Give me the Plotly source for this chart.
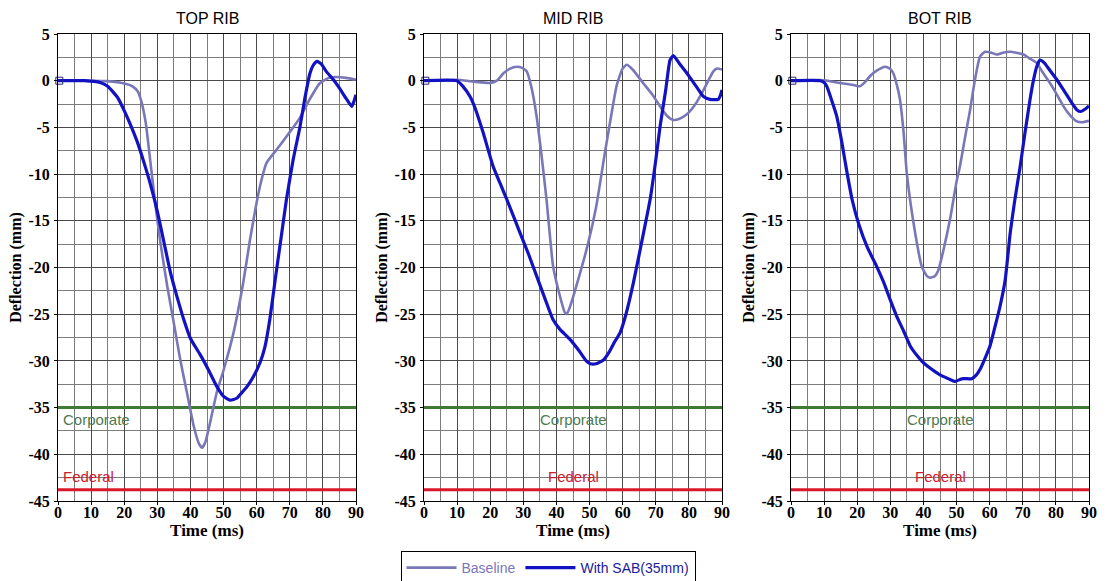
import plotly.graph_objects as go

# ---- data: rib deflection (mm) versus time (ms) ----
panel_titles = ["TOP RIB", "MID RIB", "BOT RIB"]
x_ticks = [0, 10, 20, 30, 40, 50, 60, 70, 80, 90]
y_ticks = [5, 0, -5, -10, -15, -20, -25, -30, -35, -40, -45]
y_tick_text = ["5", "0", "-5", "-10", "-15", "-20", "-25", "-30", "-35", "-40", "-45"]

corporate_limit = -35.0
federal_limit = -43.8

top_base_t = [0, 10, 15, 20, 22.5, 24, 25, 26.5, 28, 29.5, 31, 33, 35, 37, 39, 41, 42.5, 43.5,
              44.5, 46, 48, 50, 53, 56, 58, 61, 63, 66, 70, 73, 76, 79, 82, 84, 87, 90]
top_base_mm = [0, 0, -0.05, -0.3, -0.6, -1.1, -2, -4.5, -9, -13.5, -17.5, -22, -26, -30, -33.5,
               -37, -38.8, -39.3, -38.7, -36.5, -33.3, -31.0, -27.0, -21.5, -17.0, -11.3, -8.8,
               -7.4, -5.5, -4.0, -2.0, -0.3, 0.35, 0.4, 0.3, 0.1]

top_sab_t = [0, 8, 12.7, 15, 18, 20, 22, 24, 26, 28, 30, 32, 34, 36, 38, 40, 42.9,
             45.5, 47.9, 50, 52, 54, 55, 57, 59, 61, 62.5, 64, 65.6, 67.5, 69, 71, 73.1, 74.5,
             76.1, 77, 78.2, 79.5, 81, 83.2, 85, 87, 88.7, 89.3, 90]
top_sab_mm = [0, 0, -0.2, -0.6, -1.8, -3.2, -4.8, -6.6, -8.8, -11.2, -14, -17.3, -20.6, -23.2,
              -25.6, -27.6, -29.3, -31, -32.7, -33.8, -34.2, -34.0, -33.6, -32.8, -31.7, -30.2,
              -28.5, -25.5, -21.3, -16.5, -12.7, -8.5, -4.9, -2, 0.8, 1.6, 2.07, 1.8, 1.0, 0.1,
              -0.8, -1.9, -2.75, -2.3, -1.5]

mid_base_t = [0, 5, 10, 15, 19.9, 22, 24, 26, 28, 29.5, 31, 32.5, 34, 35.5, 37, 39, 41, 42.5,
              43.1, 44, 46, 49.5, 52, 54.5, 56.5, 58.2, 60, 61.2, 63, 66.3, 69, 71.3, 73.5,
              75.3, 77, 79.4, 82, 84.4, 87.4, 88.5, 90]
mid_base_mm = [0, 0, 0.1, -0.1, -0.25, 0, 0.8, 1.3, 1.5, 1.4, 1.0, -0.8, -3.8, -8, -12.7,
               -19.9, -23, -24.8, -25, -24.3, -22, -17.5, -13.5, -8.0, -3.8, -0.5, 1.3, 1.7,
               1.2, -0.3, -1.5, -2.75, -3.8, -4.2, -4.1, -3.6, -2.5, -1.0, 1.0, 1.3, 1.2]

mid_sab_t = [0, 9.9, 11.5, 13.9, 15.5, 17.9, 20.9, 23, 25, 29, 31.5, 34, 36.5, 39, 41, 44.1, 47,
             49, 50.2, 52, 54.2, 56, 57.5, 59.2, 61, 63.2, 66.3, 68.3, 70, 71.3, 73, 74.3, 75.3,
             77, 79.4, 82, 84.4, 86.4, 88.9, 89.5, 90]
mid_sab_mm = [0, 0, -0.5, -1.7, -3, -5.6, -9.2, -11, -12.7, -16.3, -18.5, -20.9, -23.3, -25.6,
              -26.6, -27.7, -29, -30, -30.3, -30.3, -29.9, -29, -28, -27, -25, -21.7, -16.3,
              -12.7, -8.5, -4.9, -1, 2.2, 2.7, 1.9, 0.8, -0.5, -1.7, -2.0, -2.0, -1.6, -1.0]

bot_base_t = [0, 10, 14.8, 18, 20.8, 22.5, 23.9, 26, 28.4, 29.8, 30.9, 32, 32.9, 34, 35, 37.5,
              39.5, 41, 42, 43.5, 44.5, 46, 48, 50, 51, 52.5, 54.1, 55.5, 57.1, 58.6, 60.5,
              62.1, 64, 66.2, 68, 70.2, 72, 74.2, 76, 78.2, 80, 82.3, 84.5, 86.3, 88, 90]
bot_base_mm = [0, 0.05, -0.25, -0.4, -0.6, -0.1, 0.5, 1.1, 1.5, 1.3, 0.8, -0.5, -2.0, -5.5,
               -10.0, -16.3, -19.9, -20.9, -21.1, -20.9, -20.3, -18.2, -14.9, -10.8, -9.2,
               -6.2, -3.1, 0, 2.6, 3.1, 3.0, 2.8, 3.0, 3.1, 3.0, 2.8, 2.4, 1.9, 0.9, -0.25,
               -1.3, -2.75, -3.8, -4.35, -4.45, -4.3]

bot_sab_t = [0, 8.8, 10, 10.8, 12, 13.8, 15.3, 16.8, 18.5, 20.5, 23, 25.9, 28, 30, 31.9, 34,
             36, 38, 40, 42.5, 45, 47.5, 49.5, 51, 52, 54.6, 56, 57.1, 58.5, 60.1, 61.5, 63.1,
             64.7, 66.2, 67.5, 69.2, 70.7, 72.2, 73.2, 74.2, 75.2, 76.5, 78, 80.3, 82.5, 84.5,
             86.3, 87.5, 89, 90]
bot_sab_mm = [0, 0, -0.2, -0.6, -1.8, -3.8, -6.5, -9.6, -12.8, -15.4, -17.8, -19.9, -21.6,
              -23.5, -25.2, -26.8, -28.4, -29.4, -30.2, -30.9, -31.5, -31.9, -32.2, -32.0,
              -31.9, -31.9, -31.5, -30.9, -29.8, -28.4, -26.5, -24.2, -21.3, -16.3, -13,
              -9.2, -5.5, -2.0, 0, 1.5, 2.2, 1.9, 1.2, 0.1, -1.1, -2.2, -3.1, -3.3, -3.0, -2.7]

baseline_series = [(top_base_t, top_base_mm), (mid_base_t, mid_base_mm), (bot_base_t, bot_base_mm)]
sab_series = [(top_sab_t, top_sab_mm), (mid_sab_t, mid_sab_mm), (bot_sab_t, bot_sab_mm)]

# ---- styling ----
BASE_COLOR = "#7a77b8"
SAB_COLOR = "#1212c2"
CORP_COLOR = "#3f7a35"
CORP_TEXT = "#4f7a4f"
FED_COLOR = "#d8182a"
FED_TEXT = "#c8202e"
SERIF = "Liberation Serif, Times New Roman, serif"
SANS = "Liberation Sans, Arial, sans-serif"

W, H = 1108, 581
ML, MR, MT, MB = 58, 19, 34, 80
plot_w = W - ML - MR
# pixel extents of each panel's plot area (left, right)
panel_px = [(58, 356), (424, 722), (791, 1089)]
domains = [[(a - ML) / plot_w, (b - ML) / plot_w] for a, b in panel_px]

fig = go.Figure()

for i in range(3):
    xa = "x" if i == 0 else f"x{i + 1}"
    ya = "y" if i == 0 else f"y{i + 1}"

    # limit lines
    fig.add_trace(go.Scatter(x=[0, 90], y=[corporate_limit] * 2, mode="lines",
                             line=dict(color=CORP_COLOR, width=3), showlegend=False,
                             hoverinfo="skip", xaxis=xa, yaxis=ya))
    fig.add_trace(go.Scatter(x=[0, 90], y=[federal_limit] * 2, mode="lines",
                             line=dict(color=FED_COLOR, width=3), showlegend=False,
                             hoverinfo="skip", xaxis=xa, yaxis=ya))

    bt, bv = baseline_series[i]
    st, sv = sab_series[i]
    fig.add_trace(go.Scatter(x=bt, y=bv, mode="lines",
                             line=dict(color=BASE_COLOR, width=2.6, shape="spline", smoothing=0.5),
                             name=f"<span style='color:{BASE_COLOR}'>Baseline</span>",
                             showlegend=(i == 0), legendrank=1, xaxis=xa, yaxis=ya))
    fig.add_trace(go.Scatter(x=st, y=sv, mode="lines",
                             line=dict(color=SAB_COLOR, width=3.2, shape="spline", smoothing=0.5),
                             name="<span style='color:#1a1a9a'>With SAB(35mm)</span>",
                             showlegend=(i == 0), legendrank=2, xaxis=xa, yaxis=ya))
    # start marker
    fig.add_trace(go.Scatter(x=[0.4], y=[0], mode="markers",
                             marker=dict(symbol="square-open", size=7,
                                         color="#2a2a70", line=dict(width=1)),
                             showlegend=False, hoverinfo="skip", cliponaxis=False,
                             xaxis=xa, yaxis=ya))

    axis_common = dict(showline=True, linecolor="black", linewidth=1, mirror=True,
                       ticks="outside", ticklen=3, tickcolor="black", zeroline=False,
                       automargin=False,
                       tickfont=dict(family=SERIF, size=16, color="black", weight="bold"))
    fig.layout[("xaxis" if i == 0 else f"xaxis{i + 1}")] = dict(
        domain=domains[i], anchor=ya, range=[0, 90], tickvals=x_ticks,
        showgrid=True, gridcolor="#4a4a4a", gridwidth=1,
        minor=dict(dtick=5, tick0=0, showgrid=True, gridcolor="#7c7c7c", gridwidth=1),
        title=dict(text="Time (ms)",
                   font=dict(family=SERIF, size=17, color="black", weight="bold"),
                   standoff=0),
        ticklabelstandoff=-6,
        **axis_common)
    fig.layout[("yaxis" if i == 0 else f"yaxis{i + 1}")] = dict(
        domain=[0, 1], anchor=xa, range=[-45, 5], tickvals=y_ticks, ticktext=y_tick_text,
        showgrid=True, gridcolor="#4a4a4a", gridwidth=1,
        minor=dict(dtick=2.5, tick0=0, showgrid=True, gridcolor="#7c7c7c", gridwidth=1),
        title=dict(text="Deflection (mm)",
                   font=dict(family=SERIF, size=16, color="black", weight="bold"),
                   standoff=2),
        ticklabelstandoff=1,
        **axis_common)

    # panel title
    fig.add_annotation(text=panel_titles[i], xref=f"{xa} domain", yref="paper",
                       x=0.5, y=1, yanchor="bottom", yshift=5, showarrow=False,
                       font=dict(family=SANS, size=16, color="black"))

    # limit labels
    if i == 0:
        lx, anchor = 0.8, "left"
    else:
        lx, anchor = 45, "center"
    fig.add_annotation(text="Corporate", x=lx, y=corporate_limit, xref=xa, yref=ya,
                       xanchor=anchor, yanchor="top", yshift=-1, showarrow=False,
                       font=dict(family=SANS, size=15, color=CORP_TEXT))
    fig.add_annotation(text="Federal", x=lx, y=federal_limit, xref=xa, yref=ya,
                       xanchor=anchor, yanchor="bottom", yshift=3, showarrow=False,
                       font=dict(family=SANS, size=15, color=FED_TEXT))

fig.update_layout(
    width=W, height=H,
    margin=dict(l=ML, r=MR, t=MT, b=MB, autoexpand=False),
    paper_bgcolor="white", plot_bgcolor="white",
    showlegend=True,
    legend=dict(orientation="h", xref="container", yref="container",
                x=548 / W, xanchor="center", y=1 - 551 / H, yanchor="top",
                bordercolor="black", borderwidth=1, bgcolor="white",
                font=dict(family=SANS, size=14), itemwidth=50,
                tracegroupgap=0, traceorder="normal"),
)

fig.write_html("out.html")
